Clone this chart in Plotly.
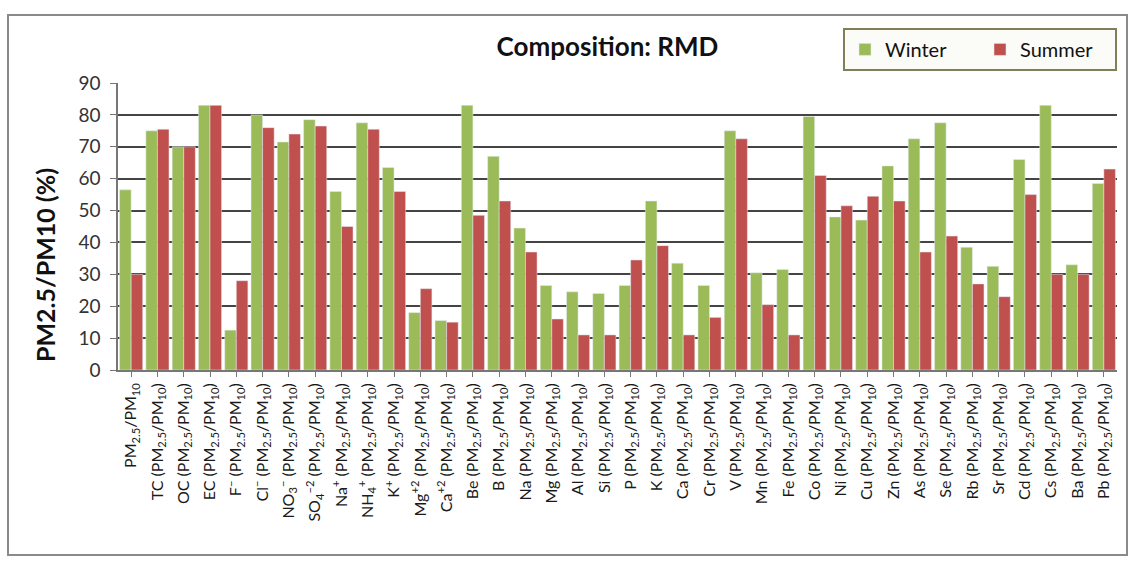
import plotly.graph_objects as go

sfx = " (PM<sub>2.5</sub>/PM<sub>10</sub>)"
species = ["TC", "OC", "EC", "F<sup>−</sup>", "Cl<sup>−</sup>", "NO<sub>3</sub><sup>−</sup>",
           "SO<sub>4</sub><sup>−2</sup>", "Na<sup>+</sup>", "NH<sub>4</sub><sup>+</sup>", "K<sup>+</sup>",
           "Mg<sup>+2</sup>", "Ca<sup>+2</sup>", "Be", "B", "Na", "Mg", "Al", "Si", "P", "K", "Ca",
           "Cr", "V", "Mn", "Fe", "Co", "Ni", "Cu", "Zn", "As", "Se", "Rb", "Sr", "Cd", "Cs", "Ba", "Pb"]
categories = ["PM<sub>2.5</sub>/PM<sub>10</sub>"] + [s + sfx for s in species]

winter = [56.5, 75, 70, 83, 12.5, 80, 71.5, 78.5, 56, 77.5, 63.5, 18, 15.5, 83, 67, 44.5, 26.5,
          24.5, 24, 26.5, 53, 33.5, 26.5, 75, 30.5, 31.5, 79.5, 48, 47, 64, 72.5, 77.5, 38.5,
          32.5, 66, 83, 33, 58.5]
summer = [30, 75.5, 70, 83, 28, 76, 74, 76.5, 45, 75.5, 56, 25.5, 15, 48.5, 53, 37, 16, 11, 11,
          34.5, 39, 11, 16.5, 72.5, 20.5, 11, 61, 51.5, 54.5, 53, 37, 42, 27, 23, 55, 30, 30, 63]

FONT = "Lato"
fig = go.Figure()
fig.add_trace(go.Bar(name="Winter", x=list(range(len(categories))), y=winter, marker_color="#9BBB59"))
fig.add_trace(go.Bar(name="Summer", x=list(range(len(categories))), y=summer, marker_color="#C0504D"))

fig.update_layout(
    width=1132, height=562, autosize=False,
    margin=dict(l=118, r=15, t=83, b=192),
    paper_bgcolor="white", plot_bgcolor="white",
    barmode="group", bargap=0.12, bargroupgap=0,
    font=dict(family=FONT, color="#222"),
    title=dict(text="<b>Composition: RMD</b>", x=0.49, xref="paper", xanchor="center",
               y=1 - 47 / 562, yref="container", yanchor="middle", font=dict(size=26, color="#111")),
    legend=dict(orientation="h", x=1.0, y=1.192, xanchor="right", yanchor="top",
                bgcolor="#fbfbf8", bordercolor="#7f7f5a", borderwidth=2,
                font=dict(size=20, color="#111"), entrywidth=90),
    showlegend=True,
)
fig.update_xaxes(
    tickmode="array", tickvals=list(range(len(categories))), ticktext=categories,
    tickangle=-90, tickfont=dict(size=16, color="#1a1a1a"),
    showline=True, linecolor="#777", linewidth=1.5,
    ticks="outside", ticklen=5, tickcolor="#777",
    range=[-0.5, len(categories) - 0.5], showgrid=False,
)
fig.update_yaxes(
    range=[0, 90], dtick=10, tickfont=dict(size=19, color="#333"),
    showgrid=True, gridcolor="#444", gridwidth=1.5,
    showline=True, linecolor="#777", linewidth=1.5,
    ticks="outside", ticklen=6, tickcolor="#777", zeroline=False,
    ticklabelstandoff=6,
)
fig.add_annotation(text="<b>PM2.5/PM10 (%)</b>", textangle=-90, xref="paper", yref="paper",
                   x=(45 - 118) / 999, y=(370 - 265) / 287, xanchor="center", yanchor="middle",
                   showarrow=False, font=dict(size=25, color="#111", family=FONT))
fig.add_shape(type="rect", xref="paper", yref="paper",
              x0=(8 - 118) / 999, x1=(1127 - 118) / 999,
              y0=(370 - 555) / 287, y1=(370 - 15) / 287,
              line=dict(color="#8a8a8a", width=2), layer="below")
fig.write_html("out.html", config={"responsive": False, "displayModeBar": False},
               post_script="document.body.style.margin='0';document.body.style.overflow='hidden';")
